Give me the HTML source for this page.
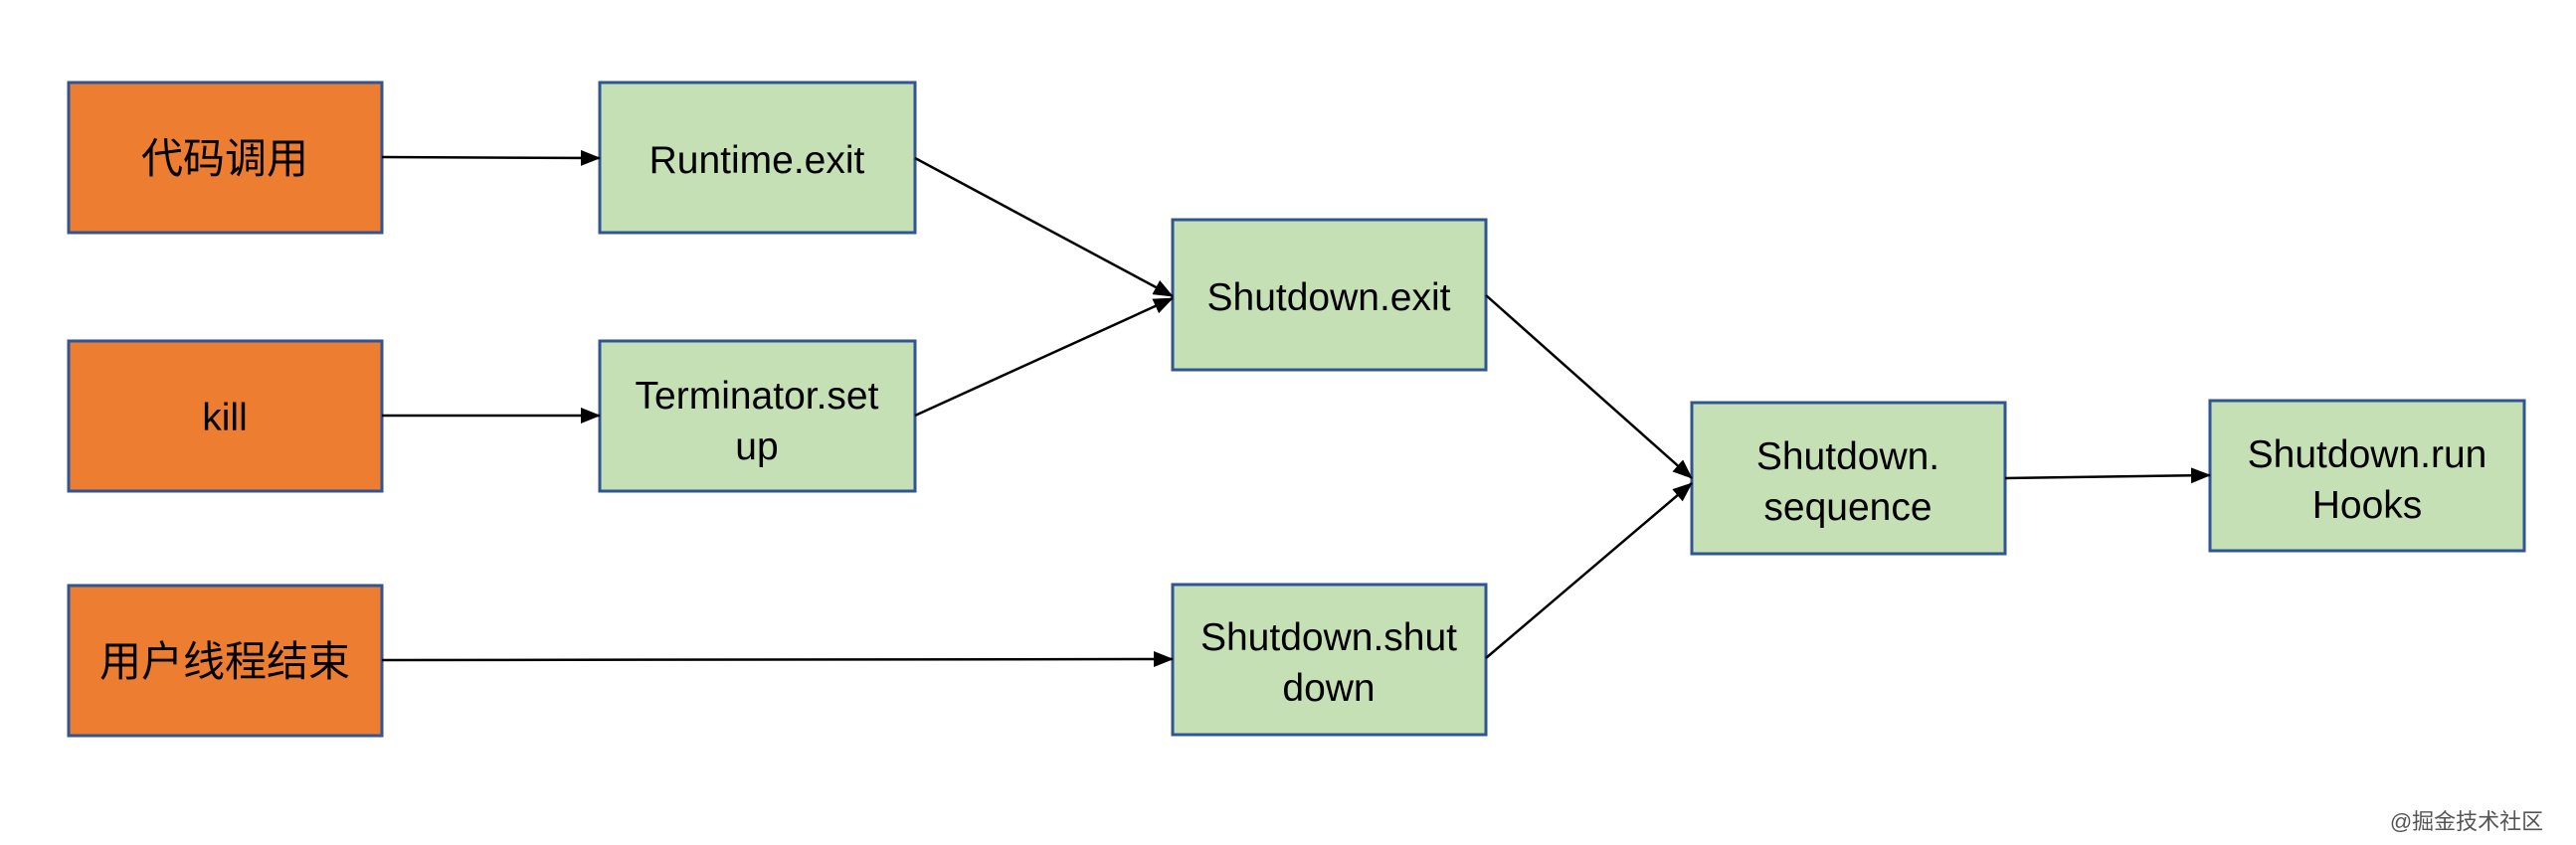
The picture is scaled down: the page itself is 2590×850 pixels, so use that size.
<!DOCTYPE html>
<html><head><meta charset="utf-8"><style>
html,body{margin:0;padding:0;background:#fff;}
svg{display:block;}
text{font-family:"Liberation Sans","Noto Sans CJK SC",sans-serif;font-size:39px;fill:#000;text-anchor:middle;}
.cn{font-size:42px;}
</style></head><body>
<svg width="2590" height="850" viewBox="0 0 2590 850" xmlns="http://www.w3.org/2000/svg">
<defs>
<marker id="b" markerWidth="20" markerHeight="16" refX="19" refY="8" orient="auto" markerUnits="userSpaceOnUse" viewBox="0 0 20 16"><path d="M0,0 L20,8 L0,16z" fill="#000"/></marker></defs>
<g stroke="#2f5597" stroke-width="3">
<rect x="69" y="83" width="315" height="151" fill="#ed7d31"/>
<rect x="69" y="343" width="315" height="151" fill="#ed7d31"/>
<rect x="69" y="589" width="315" height="151" fill="#ed7d31"/>
<rect x="603" y="83" width="317" height="151" fill="#c5e0b4"/>
<rect x="603" y="343" width="317" height="151" fill="#c5e0b4"/>
<rect x="1179" y="221" width="315" height="151" fill="#c5e0b4"/>
<rect x="1179" y="588" width="315" height="151" fill="#c5e0b4"/>
<rect x="1701" y="405" width="315" height="152" fill="#c5e0b4"/>
<rect x="2222" y="403" width="316" height="151" fill="#c5e0b4"/>
</g>
<g stroke="#000" stroke-width="2.5" fill="none" marker-end="url(#b)">
<line x1="384" y1="158" x2="603" y2="159"/>
<line x1="384" y1="418" x2="603" y2="418"/>
<line x1="384" y1="664" x2="1179" y2="663"/>
<line x1="920" y1="159" x2="1179" y2="298"/>
<line x1="920" y1="418" x2="1179" y2="300"/>
<line x1="1494" y1="297" x2="1701" y2="481"/>
<line x1="1494" y1="662" x2="1701" y2="486"/>
<line x1="2016" y1="481" x2="2222" y2="478"/>
</g>
<text class="cn" x="226" y="174">代码调用</text>
<text x="226" y="433">kill</text>
<text class="cn" x="226" y="680">用户线程结束</text>
<text x="761" y="174">Runtime.exit</text>
<text x="761" y="411">Terminator.set</text>
<text x="761" y="462">up</text>
<text x="1336" y="312">Shutdown.exit</text>
<text x="1336" y="654">Shutdown.shut</text>
<text x="1336" y="705">down</text>
<text x="1858" y="472">Shutdown.</text>
<text x="1858" y="523">sequence</text>
<text x="2380" y="470">Shutdown.run</text>
<text x="2380" y="521">Hooks</text>
<text x="2480" y="834" style="font-size:22px;fill:#555;">@掘金技术社区</text>
</svg>
</body></html>
